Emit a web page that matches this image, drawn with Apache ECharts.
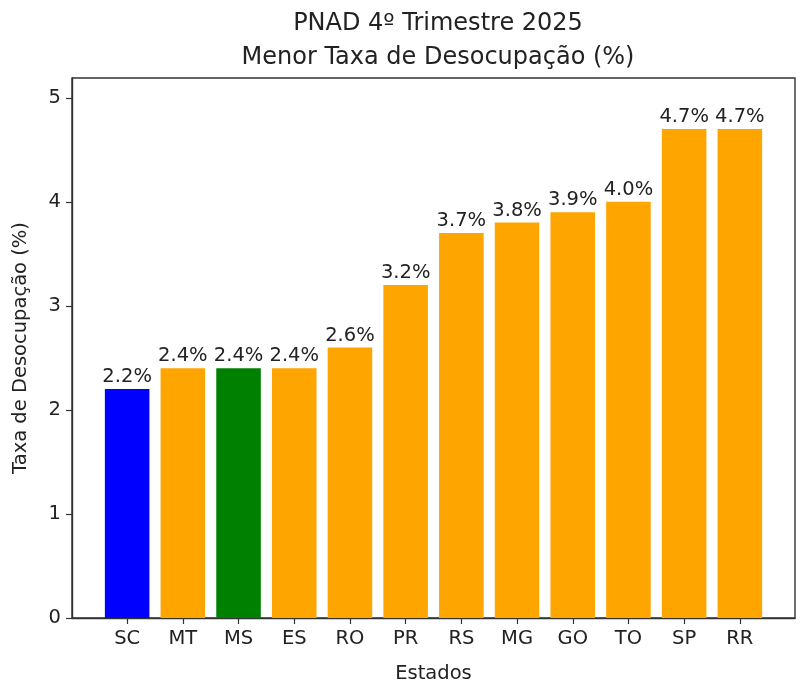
<!DOCTYPE html>
<html>
<head>
<meta charset="utf-8">
<script src="https://cdn.jsdelivr.net/npm/echarts@6/dist/echarts.min.js"></script>
<style>
html,body{margin:0;padding:0;background:#fff;}
#chart{width:800px;height:695px;}
</style>
</head>
<body>
<div id="chart"></div>
<script>
const categories = ['SC','MT','MS','ES','RO','PR','RS','MG','GO','TO','SP','RR'];
const values = [2.2,2.4,2.4,2.4,2.6,3.2,3.7,3.8,3.9,4.0,4.7,4.7];
const barColors = ['#0000ff','#ffa500','#008000','#ffa500','#ffa500','#ffa500','#ffa500','#ffa500','#ffa500','#ffa500','#ffa500','#ffa500'];
const yTicks = [0,1,2,3,4,5];
const titleLines = ['PNAD 4º Trimestre 2025','Menor Taxa de Desocupação (%)'];

const font = 'DejaVu Sans';
const axisColor = '#333';
const fs = 19.5;
const chart = echarts.init(document.getElementById('chart'));
const xIdx = categories.map((c,i)=>i);
chart.setOption({
  animation:false,
  backgroundColor:'#fff',
  title:{
    text:titleLines.join('\n'),
    left:433, top:2, textAlign:'center',
    textStyle:{fontFamily:font,fontSize:24,fontWeight:'normal',color:'#222',lineHeight:34}
  },
  grid:{left:72,right:5,top:78,bottom:77,show:true,borderColor:axisColor,borderWidth:1.4,backgroundColor:'transparent'},
  xAxis:{
    type:'value', min:-0.99, max:11.99,
    name:'Estados', nameLocation:'middle', nameGap:46,
    nameTextStyle:{fontFamily:font,fontSize:fs,color:'#222'},
    axisLine:{show:true,onZero:false,lineStyle:{color:axisColor,width:1.4}},
    axisTick:{show:true,length:6,lineStyle:{color:axisColor,width:1.2},customValues:xIdx},
    axisLabel:{fontFamily:font,fontSize:fs,color:'#222',margin:11,customValues:xIdx,
      formatter:v=>categories[Math.round(v)]},
    splitLine:{show:false}
  },
  yAxis:{
    type:'value', min:0, max:5.19,
    name:'Taxa de Desocupação (%)', nameLocation:'middle', nameGap:41, nameRotate:90,
    nameTextStyle:{fontFamily:font,fontSize:fs,color:'#222'},
    axisLine:{show:true,onZero:false,lineStyle:{color:axisColor,width:1.4}},
    axisTick:{show:true,length:6,lineStyle:{color:axisColor,width:1.2},customValues:yTicks},
    axisLabel:{fontFamily:font,fontSize:fs,color:'#222',margin:11,customValues:yTicks},
    splitLine:{show:false}
  },
  series:[{
    type:'bar',
    barWidth:'80%',
    data:values.map((v,i)=>({value:[i,v],itemStyle:{color:barColors[i]}})),
    label:{show:true,position:'top',distance:2,fontFamily:font,fontSize:fs,color:'#222',
      formatter:p=>p.value[1].toFixed(1)+'%'}
  }]
});
</script>
</body>
</html>
